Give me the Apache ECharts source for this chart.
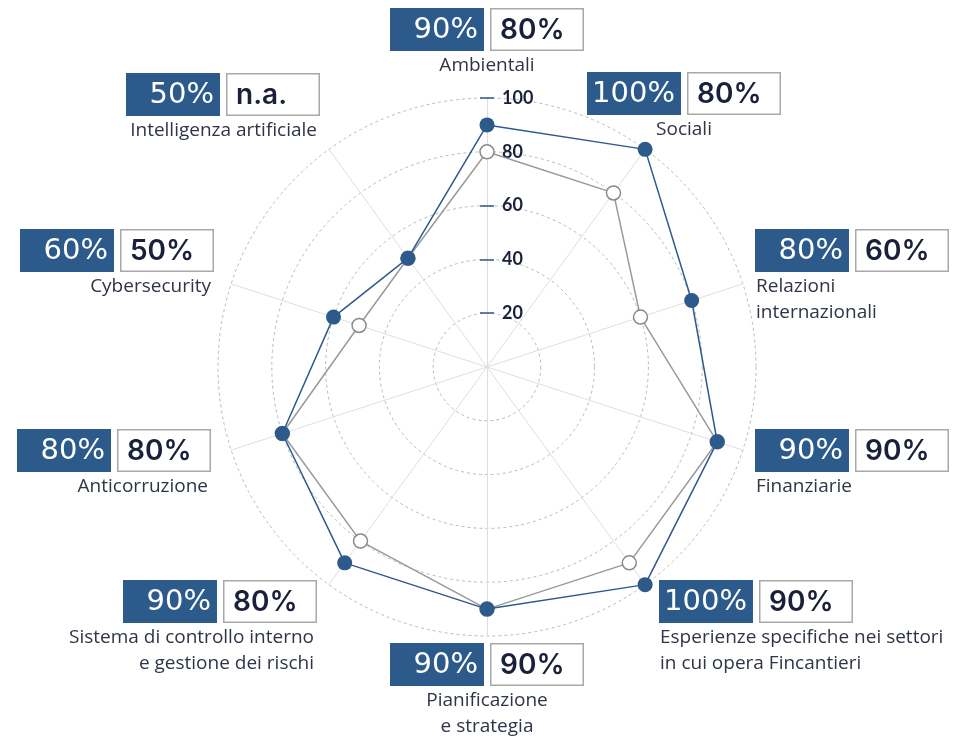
<!DOCTYPE html>
<html>
<head>
<meta charset="utf-8">
<script src="https://cdn.jsdelivr.net/npm/echarts@6/dist/echarts.min.js"></script>
<style>
  html, body { margin: 0; padding: 0; background: #fff; }
  #chart { width: 963px; height: 749px; }
</style>
</head>
<body>
<div id="chart"></div>
<script>
// categorie (senso orario dall'alto)
var categories = [
  'Ambientali',
  'Sociali',
  'Relazioni\ninternazionali',
  'Finanziarie',
  'Esperienze specifiche nei settori\nin cui opera Fincantieri',
  'Pianificazione\ne strategia',
  'Sistema di controllo interno\ne gestione dei rischi',
  'Anticorruzione',
  'Cybersecurity',
  'Intelligenza artificiale'
];
var current = [90, 100, 80, 90, 100, 90, 90, 80, 60, 50];
var previous = [80, 80, 60, 90, 90, 90, 80, 80, 50, null];   // null = n.a.
var tickValues = [20, 40, 60, 80, 100];

var BLUE = '#2c5a8b';
var NAVY = '#19213a';

// dove mettere i riquadri: x del box blu, y del box, allineamento del nome
var boxPos = [
  [390, 8, 'center'],
  [587, 72, 'center'],
  [755, 229, 'left'],
  [755, 429, 'left'],
  [659, 580, 'left'],
  [390, 643, 'center'],
  [123, 580, 'right'],
  [17, 429, 'right'],
  [20, 229, 'right'],
  [126, 73, 'right']
];

var CX = 487, CY = 367, R = 269;
var BW = 94, BH = 43, GAP = 6;

// linea grigia: dove manca il dato segue il valore attuale
var previousLine = previous.map(function (v, i) { return v == null ? current[i] : v; });

// il radar di echarts gira in senso antiorario: inverto l'ordine dopo il primo
function cw(arr) { return [arr[0]].concat(arr.slice(1).reverse()); }

var graphics = [];
categories.forEach(function (name, i) {
  var p = boxPos[i];
  var x = p[0], y = p[1];
  graphics.push({
    type: 'rect', left: x, top: y,
    shape: { width: BW, height: BH },
    style: { fill: BLUE }
  });
  graphics.push({
    type: 'text', x: x + BW - 6, y: y + BH / 2 + 1,
    style: {
      text: current[i] + '%', fill: '#fff', align: 'right', verticalAlign: 'middle',
      font: 'normal 29px "DejaVu Sans"'
    }
  });
  graphics.push({
    type: 'rect', left: x + BW + GAP, top: y,
    shape: { x: 0.75, y: 0.75, width: BW - 1.5, height: BH - 1.5 },
    style: { fill: '#fff', stroke: '#a8a8a8', lineWidth: 1.5 }
  });
  graphics.push({
    type: 'text', x: x + BW + GAP + 10, y: y + BH / 2 + 1,
    style: {
      text: previous[i] == null ? 'n.a.' : previous[i] + '%', fill: NAVY,
      align: 'left', verticalAlign: 'middle',
      font: '600 28px Inter'
    }
  });
  var nx = p[2] === 'center' ? x + BW + GAP / 2 : (p[2] === 'left' ? x + 1 : x + 2 * BW + GAP - 3);
  graphics.push({
    type: 'text', x: nx, y: y + BH + 2,
    style: {
      text: name, fill: '#2e3546', align: p[2], verticalAlign: 'top',
      font: '19px "Open Sans"', lineHeight: 26
    }
  });
});

var chart = echarts.init(document.getElementById('chart'));
var option = {
  animation: false,
  radar: {
    center: [CX, CY],
    radius: R,
    shape: 'circle',
    startAngle: 90,
    splitNumber: 5,
    indicator: cw(categories).map(function (c) { return { name: c, min: 0, max: 100 }; }),
    axisName: { show: false },
    axisLine: { lineStyle: { color: '#dedede', width: 1 } },
    splitLine: { lineStyle: { color: '#b8b8b8', type: [3, 3], width: 1 } },
    splitArea: { show: false }
  },
  // due assi radiali sovrapposti: tacca a sinistra + tacca a destra
  polar: [
    { center: [CX, CY], radius: R },
    { center: [CX, CY], radius: R }
  ],
  angleAxis: [
    { polarIndex: 0, show: false, startAngle: 90, min: 0, max: 360 },
    { polarIndex: 1, show: false, startAngle: 90, min: 0, max: 360 }
  ],
  radiusAxis: [
    {
      polarIndex: 0, min: 0, max: 100, interval: 20, z: 1,
      axisLine: { show: false },
      splitLine: { show: false },
      axisTick: { show: true, length: 7, customValues: tickValues, lineStyle: { color: BLUE, width: 1.5 } },
      axisLabel: {
        show: true, margin: -15, align: 'left', customValues: tickValues,
        color: NAVY, fontSize: 18, fontWeight: 'bold', fontFamily: 'Lato'
      }
    },
    {
      polarIndex: 1, min: 0, max: 100, interval: 20, z: 1,
      axisLine: { show: false },
      splitLine: { show: false },
      axisTick: { show: true, length: -7, customValues: tickValues, lineStyle: { color: BLUE, width: 1.5 } },
      axisLabel: { show: false }
    }
  ],
  series: [
    {
      type: 'radar', z: 3,
      symbol: 'circle', symbolSize: 14,
      lineStyle: { color: '#999', width: 1.5 },
      itemStyle: { color: '#fff', borderColor: '#8a8a8a', borderWidth: 1.5 },
      data: [{ value: cw(previousLine) }]
    },
    {
      type: 'radar', z: 4,
      symbol: 'circle', symbolSize: 15,
      lineStyle: { color: BLUE, width: 1.5 },
      itemStyle: { color: BLUE },
      data: [{ value: cw(current) }]
    }
  ],
  graphic: graphics
};
chart.setOption(option);
</script>
</body>
</html>
